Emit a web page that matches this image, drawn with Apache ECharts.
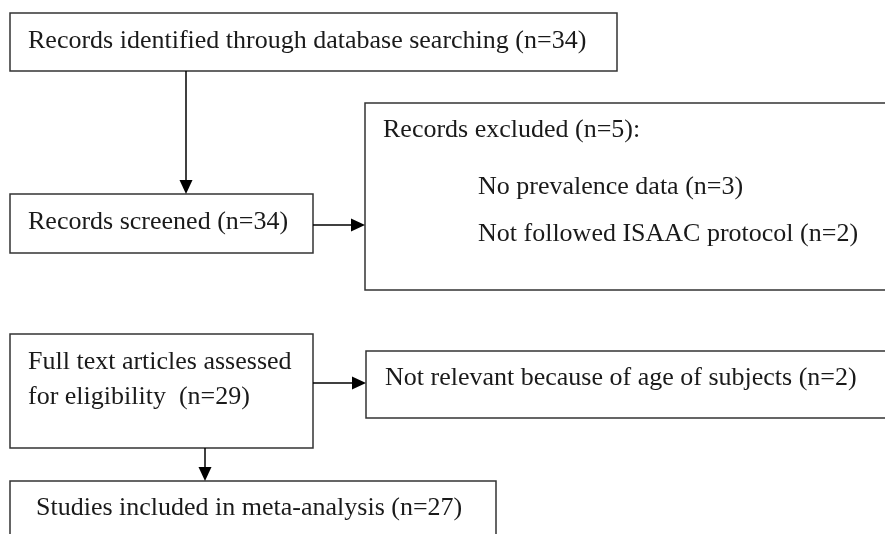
<!DOCTYPE html>
<html>
<head>
<meta charset="utf-8">
<script src="https://cdn.jsdelivr.net/npm/echarts@6/dist/echarts.min.js"></script>
<style>html,body{margin:0;padding:0;background:#fff;}#c{width:885px;height:534px;}</style>
</head>
<body>
<div id="c"></div>
<script>
// ---- content (data) ----
const identifiedText = ["Records identified through database searching (n=34)"];
const screenedText = ["Records screened (n=34)"];
const excludedText = ["Records excluded (n=5):", "No prevalence data (n=3)", "Not followed ISAAC protocol (n=2)"];
const fullTextText = ["Full text articles assessed", "for eligibility  (n=29)"];
const notRelevantText = ["Not relevant because of age of subjects (n=2)"];
const includedText = ["Studies included in meta-analysis (n=27)"];

// ---- layout ----
const FONT = '26px "Liberation Serif", "Times New Roman", serif';
const BORDER = '#333';
const boxes = [
  {x: 10, y: 13, w: 607, h: 58, lines: identifiedText, tx: [28], ty: [41]},
  {x: 10, y: 194, w: 303, h: 59, lines: screenedText, tx: [28], ty: [222]},
  {x: 365, y: 103, w: 530, h: 187, lines: excludedText, tx: [383, 478, 478], ty: [130, 187, 234]},
  {x: 10, y: 334, w: 303, h: 114, lines: fullTextText, tx: [28, 28], ty: [362, 397]},
  {x: 366, y: 351, w: 530, h: 67, lines: notRelevantText, tx: [385], ty: [378]},
  {x: 10, y: 481, w: 486, h: 70, lines: includedText, tx: [36], ty: [508]}
];
const arrows = [
  {x1: 186, y1: 71, x2: 186, y2: 194},
  {x1: 313, y1: 225, x2: 365, y2: 225},
  {x1: 313, y1: 383, x2: 366, y2: 383},
  {x1: 205, y1: 448, x2: 205, y2: 481}
];

const elements = [];
boxes.forEach(b => {
  elements.push({type: 'rect', shape: {x: b.x, y: b.y, width: b.w, height: b.h},
    style: {fill: '#fff', stroke: BORDER, lineWidth: 1.5}});
  b.lines.forEach((t, i) => {
    elements.push({type: 'text', x: b.tx[i], y: b.ty[i],
      style: {text: t, font: FONT, fill: '#1a1a1a', verticalAlign: 'middle', textVerticalAlign: 'middle'}});
  });
});
arrows.forEach(a => {
  const vertical = a.x1 === a.x2;
  const L = 14, W = 6.5;
  let lineEnd, pts;
  if (vertical) {
    lineEnd = [a.x2, a.y2 - L + 1];
    pts = [[a.x2 - W, a.y2 - L], [a.x2 + W, a.y2 - L], [a.x2, a.y2]];
  } else {
    lineEnd = [a.x2 - L + 1, a.y2];
    pts = [[a.x2 - L, a.y2 - W], [a.x2 - L, a.y2 + W], [a.x2, a.y2]];
  }
  elements.push({type: 'line', shape: {x1: a.x1, y1: a.y1, x2: lineEnd[0], y2: lineEnd[1]},
    style: {stroke: '#000', lineWidth: 1.5}});
  elements.push({type: 'polygon', shape: {points: pts}, style: {fill: '#000'}});
});

const chart = echarts.init(document.getElementById('c'), null, {renderer: 'canvas'});
chart.setOption({backgroundColor: '#fff', animation: false, graphic: {elements: elements}});
</script>
</body>
</html>
